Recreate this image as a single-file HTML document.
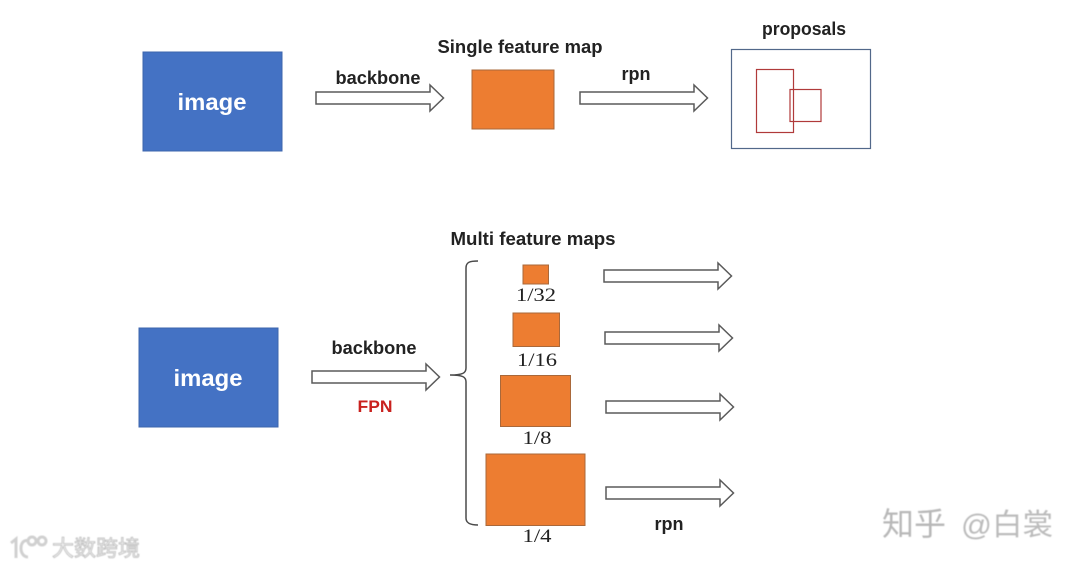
<!DOCTYPE html>
<html>
<head>
<meta charset="utf-8">
<style>
html,body{margin:0;padding:0;background:#fff;}
svg{display:block;}
.s{font-family:"Liberation Sans",sans-serif;font-weight:bold;}
.m{font-family:"Liberation Serif",serif;}
</style>
</head>
<body>
<svg width="1080" height="568" viewBox="0 0 1080 568" xmlns="http://www.w3.org/2000/svg">
<defs>
<path id="ar" d="M0 -6H114V-13L127.500 0L114 13V6H0Z" fill="#fff" stroke="#5a5a5a" stroke-width="1.5"/>
<filter id="b" x="-10%" y="-10%" width="120%" height="120%"><feGaussianBlur stdDeviation="0.5"/></filter>
</defs>
<rect width="1080" height="568" fill="#fff"/>

<rect x="143" y="52" width="139" height="99" fill="#4472c4" stroke="#3d65ad"/>
<text x="212" y="110" text-anchor="middle" class="s" font-size="23" fill="#fff" textLength="69" lengthAdjust="spacingAndGlyphs">image</text>
<text x="378" y="84" text-anchor="middle" class="s" font-size="18" fill="#222" textLength="85" lengthAdjust="spacingAndGlyphs">backbone</text>
<use href="#ar" x="316" y="98"/>
<text x="520" y="53" text-anchor="middle" class="s" font-size="18" fill="#222" textLength="165" lengthAdjust="spacingAndGlyphs">Single feature map</text>
<rect x="472" y="70" width="82" height="59" fill="#ed7d31" stroke="#a9683a"/>
<text x="636" y="80" text-anchor="middle" class="s" font-size="18" fill="#222" textLength="29" lengthAdjust="spacingAndGlyphs">rpn</text>
<use href="#ar" x="580" y="98"/>
<text x="804" y="35" text-anchor="middle" class="s" font-size="18" fill="#222" textLength="84" lengthAdjust="spacingAndGlyphs">proposals</text>
<rect x="731.5" y="49.5" width="139" height="99" fill="#fff" stroke="#52688a" stroke-width="1.2"/>
<rect x="756.5" y="69.5" width="37" height="63" fill="none" stroke="#b03a3a" stroke-width="1.2"/>
<rect x="790" y="89.5" width="31" height="32" fill="none" stroke="#b03a3a" stroke-width="1.2"/>

<text x="533" y="245" text-anchor="middle" class="s" font-size="18" fill="#222" textLength="165" lengthAdjust="spacingAndGlyphs">Multi feature maps</text>
<rect x="139" y="328" width="139" height="99" fill="#4472c4" stroke="#3d65ad"/>
<text x="208" y="386" text-anchor="middle" class="s" font-size="23" fill="#fff" textLength="69" lengthAdjust="spacingAndGlyphs">image</text>
<text x="374" y="354" text-anchor="middle" class="s" font-size="18" fill="#222" textLength="85" lengthAdjust="spacingAndGlyphs">backbone</text>
<use href="#ar" x="312" y="377"/>
<text x="375" y="412" text-anchor="middle" class="s" font-size="17" fill="#c9211e" textLength="35" lengthAdjust="spacingAndGlyphs">FPN</text>

<path d="M478 261C470 261 466 262 466 268V368C466 373 463 375 450 375C463 375 466 377 466 382V518C466 523 470 525 478 525" fill="none" stroke="#4a4a4a" stroke-width="1.5"/>

<rect x="523" y="265" width="25.500" height="19" fill="#ed7d31" stroke="#a9683a"/>
<rect x="513" y="313" width="46.500" height="33.500" fill="#ed7d31" stroke="#a9683a"/>
<rect x="500.500" y="375.500" width="70" height="51" fill="#ed7d31" stroke="#a9683a"/>
<rect x="486" y="454" width="99" height="71.500" fill="#ed7d31" stroke="#a9683a"/>

<text x="536" y="301" text-anchor="middle" class="m" font-size="19" fill="#222" textLength="40" lengthAdjust="spacingAndGlyphs">1/32</text>
<text x="537" y="366" text-anchor="middle" class="m" font-size="19" fill="#222" textLength="40" lengthAdjust="spacingAndGlyphs">1/16</text>
<text x="537" y="444" text-anchor="middle" class="m" font-size="19" fill="#222" textLength="29" lengthAdjust="spacingAndGlyphs">1/8</text>
<text x="537" y="542" text-anchor="middle" class="m" font-size="19" fill="#222" textLength="29" lengthAdjust="spacingAndGlyphs">1/4</text>

<use href="#ar" x="604" y="276"/>
<use href="#ar" x="605" y="338"/>
<use href="#ar" x="606" y="407"/>
<use href="#ar" x="606" y="493"/>
<text x="669" y="530" text-anchor="middle" class="s" font-size="18" fill="#222" textLength="29" lengthAdjust="spacingAndGlyphs">rpn</text>

<g filter="url(#b)">
<text x="882" y="535" font-family="'Noto Sans CJK SC',sans-serif" font-size="32" fill="#b8b8b8">知乎</text>
<text x="961" y="535" font-family="'Liberation Sans','Noto Sans CJK SC',sans-serif" font-size="30" fill="#bcbcbc" textLength="92" lengthAdjust="spacingAndGlyphs">@白裳</text>
<g fill="none" stroke="#d0d0d0" stroke-width="3">
<path d="M11 543L16 539V558M29 541C19 537 18 557 28 557"/>
<circle cx="32" cy="541" r="4"/>
<circle cx="42" cy="541" r="4"/>
</g>
<text x="52" y="556" font-family="'Noto Sans CJK SC',sans-serif" font-size="22" fill="#f2f2f2" stroke="#bdbdbd" stroke-width="0.8" textLength="88" lengthAdjust="spacingAndGlyphs">大数跨境</text>
</g>
</svg>
</body>
</html>
